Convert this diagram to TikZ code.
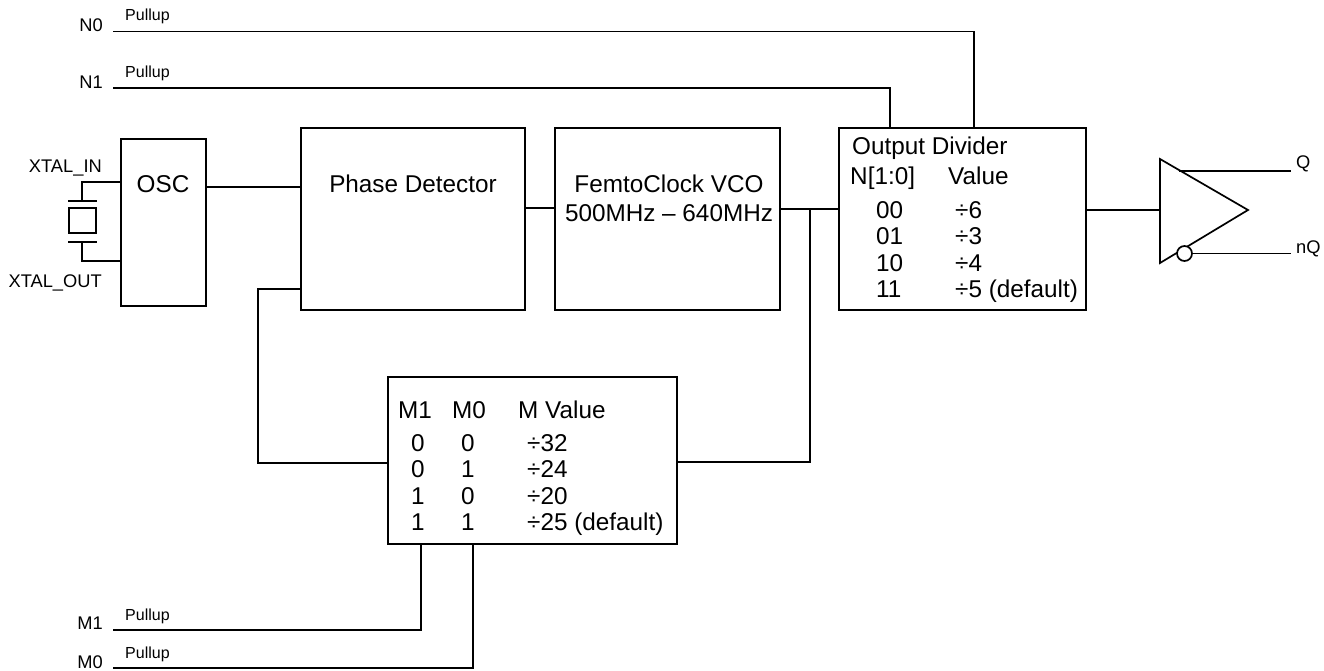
\documentclass[tikz,border=0pt]{standalone}
\usepackage{fontspec}
\setmainfont{Liberation Sans}
\begin{document}
\begin{tikzpicture}[x=1pt,y=-1pt,
  wire/.style={line width=1.7pt, line cap=rect},
  blockbox/.style={draw, line width=1.9pt, rectangle, inner sep=0pt},
  big/.style={inner sep=0pt, font=\fontsize{24.3}{28}\selectfont},
  lbl/.style={inner sep=0pt, font=\fontsize{18.3}{21}\selectfont},
  pull/.style={inner sep=0pt, anchor=base west, font=\fontsize{16}{18}\selectfont}]
\useasboundingbox (0,0) rectangle (1324,671);

% blocks
\node[blockbox, minimum width=85pt, minimum height=167pt] (osc) at (163.5,222.5) {};
\node[blockbox, minimum width=224pt, minimum height=182pt] (pd) at (413,219) {};
\node[blockbox, minimum width=225pt, minimum height=182pt] (vco) at (667.5,219) {};
\node[blockbox, minimum width=247pt, minimum height=182pt] (od) at (962.5,219) {};
\node[blockbox, minimum width=289pt, minimum height=167pt] (mb) at (532.5,460.5) {};

% block texts
\node[big, anchor=base] (osct) at (163,193) {OSC};
\node[big, anchor=base] (pdt) at (413,193) {Phase Detector};
\node[big, anchor=base] (vcot1) at (669,193) {FemtoClock VCO};
\node[big, anchor=base] (vcot2) at (669,222) {500MHz -- 640MHz};

\node[big, anchor=base west] (odh) at (852,155) {Output Divider};
\node[big, anchor=base west] (odn) at (850,185) {N[1:0]};
\node[big, anchor=base west] (odv) at (948,185) {Value};
\node[big, anchor=base west] (od0a) at (876,218) {00};
\node[big, anchor=base west] (od0b) at (955,218) {÷6};
\node[big, anchor=base west] (od1a) at (876,244.5) {01};
\node[big, anchor=base west] (od1b) at (955,244.5) {÷3};
\node[big, anchor=base west] (od2a) at (876,271) {10};
\node[big, anchor=base west] (od2b) at (955,271) {÷4};
\node[big, anchor=base west] (od3a) at (876,297.5) {11};
\node[big, anchor=base west] (od3b) at (955,297.5) {÷5 (default)};

\node[big, anchor=base west] (mh1) at (398,418) {M1};
\node[big, anchor=base west] (mh0) at (452,418) {M0};
\node[big, anchor=base west] (mhv) at (518,418) {M Value};
\node[big, anchor=base] (m0a) at (418,451) {0};
\node[big, anchor=base] (m0b) at (468,451) {0};
\node[big, anchor=base west] (m0c) at (527,451) {÷32};
\node[big, anchor=base] (m1a) at (418,477.5) {0};
\node[big, anchor=base] (m1b) at (468,477.5) {1};
\node[big, anchor=base west] (m1c) at (527,477.5) {÷24};
\node[big, anchor=base] (m2a) at (418,504) {1};
\node[big, anchor=base] (m2b) at (468,504) {0};
\node[big, anchor=base west] (m2c) at (527,504) {÷20};
\node[big, anchor=base] (m3a) at (418,530.5) {1};
\node[big, anchor=base] (m3b) at (468,530.5) {1};
\node[big, anchor=base west] (m3c) at (527,530.5) {÷25 (default)};

% crystal
\coordinate (xin) at (82,182);
\coordinate (xout) at (82,261);
\draw[wire] (osc.west |- xin) -- (xin) -- (82,201);
\draw[wire] (69,201) -- (96,201);
\draw[line width=1.7pt] (69,208) rectangle (96,233);
\draw[wire] (69,242) -- (96,242);
\draw[wire] (82,242) -- (xout) -- (osc.west |- xout);
\node[lbl, anchor=base east] (xinl) at (102,173) {XTAL\_IN};
\node[lbl, anchor=base east] (xoutl) at (102,287) {XTAL\_OUT};

% main chain
\draw[wire] (osc.east |- 0,187) -- (pd.west |- 0,187);
\draw[wire] (pd.east |- 0,208) -- (vco.west |- 0,208);
\coordinate (jn) at (810,209);
\draw[wire] (vco.east |- jn) -- (od.west |- jn);
\draw[wire] (jn) -- (810,462) -- (mb.east |- 0,462);
\coordinate (fbl) at (258,463);
\draw[wire] (mb.west |- fbl) -- (fbl) -- (258,289) -- (pd.west |- 0,289);

% buffer
\coordinate (bin) at (1160,210);
\draw[line width=1.7pt, line join=miter] (1160,159) -- (1248,210) -- (1160,263) -- cycle;
\draw[wire] (od.east |- bin) -- (bin);
\draw[wire] (1180,171) -- (1290,171);
\node[draw, circle, line width=1.7pt, fill=white, minimum size=15pt, inner sep=0pt] (bub) at (1184.5,253.5) {};
\draw[wire] (bub.east) -- (1290,253.5);
\node[lbl, anchor=base west] (ql) at (1296,168) {Q};
\node[lbl, anchor=base west] (nql) at (1296,253) {nQ};

% control inputs
\coordinate (n0s) at (114,31.5);
\coordinate (n1s) at (114,88);
\coordinate (m1s) at (114,630);
\coordinate (m0s) at (114,668);
\draw[wire] (n0s) -- (974,31.5) -- (od.north -| 974,0);
\draw[wire] (n1s) -- (890,88) -- (od.north -| 890,0);
\draw[wire] (m1s) -- (421,630) -- (mb.south -| 421,0);
\draw[wire] (m0s) -- (473,668) -- (mb.south -| 473,0);

\node[lbl, anchor=base east] (n0l) at (103,32) {N0};
\node[lbl, anchor=base east] (n1l) at (103,89) {N1};
\node[lbl, anchor=base east] (m1l) at (103,629) {M1};
\node[lbl, anchor=base east] (m0l) at (103,668) {M0};
\node[pull] (p0) at (125,21) {Pullup};
\node[pull] (p1) at (125,78) {Pullup};
\node[pull] (p2) at (125,620) {Pullup};
\node[pull] (p3) at (125,658) {Pullup};
\end{tikzpicture}
\end{document}
